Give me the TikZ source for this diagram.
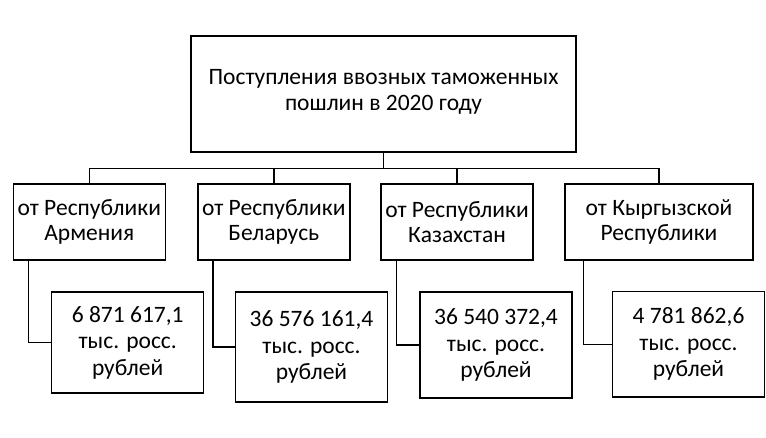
\documentclass[tikz,border=0pt]{standalone}
\usepackage{fontspec}
\setmainfont{Carlito}
\begin{document}
\begin{tikzpicture}[x=1pt,y=-1pt,
  box/.style={draw=black, line width=1.4pt, inner sep=0pt, align=center, font=\fontsize{23.5}{25.7}\selectfont},
  vbox/.style={box, font=\fontsize{23.5}{26.5}\selectfont},
  link/.style={draw=black, line width=1.4pt}]
\useasboundingbox (0,0) rectangle (766,438);
\node[box, minimum width=385pt, minimum height=116pt, text depth=8pt] (top) at (383.5,94) {Поступления ввозных таможенных\\пошлин в 2020 году};
\node[box, minimum width=152pt, minimum height=76pt] (b1) at (89.3,222) {от Республики\\Армения};
\node[box, minimum width=152pt, minimum height=76pt] (b2) at (273.8,222) {от Республики\\Беларусь};
\node[box, minimum width=152pt, minimum height=76pt] (b3) at (457,222) {от Республики\\Казахстан};
\node[box, minimum width=188pt, minimum height=76pt] (b4) at (659,222) {от Кыргызской\\Республики};
\node[vbox, minimum width=152pt, minimum height=101pt] (c1) at (127.7,342.5) {6 871 617,1\\тыс. росс.\\рублей};
\node[vbox, minimum width=152pt, minimum height=110pt] (c2) at (311.5,347) {36 576 161,4\\тыс. росс.\\рублей};
\node[vbox, minimum width=152pt, minimum height=106pt] (c3) at (496,345) {36 540 372,4\\тыс. росс.\\рублей};
\node[vbox, minimum width=152pt, minimum height=105pt] (c4) at (688.5,344.3) {4 781 862,6\\тыс. росс.\\рублей};
\foreach \b in {b1,b2,b3,b4}
  \draw[link] (top.south) -- ++(0,16) -| (\b.north);
\foreach \b/\c in {b1/c1,b2/c2,b3/c3}
  \draw[link] ([xshift=16pt]\b.south west) |- (\c.west);
\draw[link] ([xshift=19pt]b4.south west) |- (c4.west);
\end{tikzpicture}
\end{document}
